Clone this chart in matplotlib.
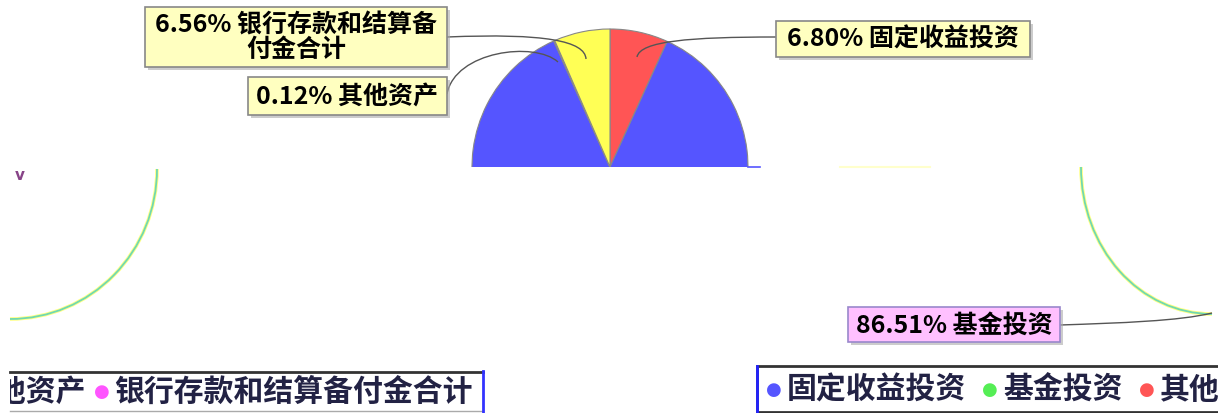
import matplotlib
matplotlib.use("Agg")
import matplotlib.pyplot as plt
from matplotlib.patches import Rectangle, Arc, PathPatch
from matplotlib.path import Path
from matplotlib.transforms import Bbox, TransformedBbox

plt.rcParams['font.family'] = ['Noto Sans CJK SC', 'DejaVu Sans']

# ---- data ----
pie_labels = ["固定收益投资", "基金投资", "其他资产", "银行存款和结算备付金合计"]
pie_values = [6.80, 86.51, 0.12, 6.56]
pie_colors = ["#FF5555", "#5555FF", "#55DD55", "#FFFF55"]
label_texts = ["6.80% 固定收益投资", "86.51% 基金投资", "0.12% 其他资产",
               "6.56% 银行存款和结算备\n付金合计"]
legend_left = ["其他资产", "银行存款和结算备付金合计"]
legend_left_colors = ["#FF5555", "#FF55FF"]
legend_right = ["固定收益投资", "基金投资", "其他资产"]
legend_right_colors = ["#5555FF", "#55EE55", "#FF5555"]

W, H = 1218, 414
fig = plt.figure(figsize=(W / 100, H / 100), dpi=100)
ax = fig.add_axes([0, 0, 1, 1])

wedges, _ = ax.pie(pie_values, colors=pie_colors, startangle=270, counterclock=True,
                   center=(610, 168), radius=138,
                   wedgeprops=dict(edgecolor="#888888", linewidth=0.8))
ax.set_xlim(0, W)
ax.set_ylim(H, 0)
ax.set_aspect('auto')
ax.axis('off')
clip = Rectangle((0, 0), W, 168, transform=ax.transData)
for w in wedges:
    w.set_clip_on(True)
    w.set_clip_path(clip)

# stray arcs
for cx, cy, wd, ht, t1, t2 in [(10, 170, 294, 300, 0, 90), (1212, 168, 262, 294, 90, 180)]:
    ax.add_patch(Arc((cx, cy), wd, ht, theta1=t1, theta2=t2, color="#FFFF66", lw=2.6, alpha=0.8))
    ax.add_patch(Arc((cx, cy), wd, ht, theta1=t1, theta2=t2, color="#70D8B0", lw=1.3))
ax.plot([840, 930], [168, 168], color="#FFFFCC", lw=1.5)
ax.plot([748, 760], [168, 168], color="#5555FF", lw=1.2)
ax.text(20, 176, "v", fontsize=11, color="#884488", fontweight="bold", ha="center", va="center",
        family="DejaVu Sans")


def leader(p0, p1, p2, p3, color="#555555"):
    path = Path([p0, p1, p2, p3], [Path.MOVETO, Path.CURVE4, Path.CURVE4, Path.CURVE4])
    ax.add_patch(PathPatch(path, fc="none", ec=color, lw=1.0))


leader((447, 38), (545, 34), (585, 42), (586, 60))
leader((447, 95), (455, 52), (535, 42), (558, 63))
leader((776, 38), (690, 38), (640, 42), (637, 58))
leader((1060, 326), (1120, 324), (1180, 322), (1212, 314))


def box(x0, y0, x1, y1, fc, ec="#888888"):
    ax.add_patch(Rectangle((x0 + 3, y0 + 3), x1 - x0, y1 - y0, fc="#AAAAAA", ec="none", alpha=0.6))
    ax.add_patch(Rectangle((x0, y0), x1 - x0, y1 - y0, fc=fc, ec=ec, lw=1.2))


lbl_fs = 18
box(776, 22, 1030, 58, "#FFFFC0")
ax.text(903, 40, label_texts[0], fontsize=lbl_fs, fontweight="bold", ha="center", va="center")
box(848, 308, 1060, 343, "#FFC0FF", ec="#9988CC")
ax.text(954, 326, label_texts[1], fontsize=lbl_fs, fontweight="bold", ha="center", va="center")
box(248, 78, 447, 116, "#FFFFC0")
ax.text(347, 97, label_texts[2], fontsize=lbl_fs, fontweight="bold", ha="center", va="center")
box(145, 8, 447, 68, "#FFFFC0")
ax.text(296, 38, label_texts[3], fontsize=lbl_fs, fontweight="bold", ha="center", va="center",
        linespacing=1.0)

# legends
leg_fs = 21.5
# left legend box
ax.plot([10, 483], [373, 373], color="#333333", lw=2)
ax.plot([10, 483], [412, 412], color="#AAAAAA", lw=1)
ax.plot([483, 483], [372, 414], color="#3333FF", lw=2)
cb = TransformedBbox(Bbox([[10, 0], [483, H]]), ax.transData)
t = ax.text(86, 392, legend_left[0], fontsize=leg_fs, fontweight="bold", ha="right", va="center",
            color="#222244")
t.set_clip_box(cb)
t.set_clip_on(True)
ax.text(102, 392, "●", fontsize=13, color=legend_left_colors[1], ha="center", va="center",
        family="DejaVu Sans")
ax.text(114, 392, legend_left[1], fontsize=leg_fs, fontweight="bold", ha="left", va="center",
        color="#222244")

# right legend box
ax.add_patch(Rectangle((757, 367), 470, 46, fc="white", ec="#333333", lw=2))
ax.plot([757, 757], [367, 413], color="#2222FF", lw=2)
xs = [774, 990, 1147]
for x, name, col in zip(xs, legend_right, legend_right_colors):
    ax.text(x, 390, "●", fontsize=13, color=col, ha="center", va="center", family="DejaVu Sans")
    ax.text(x + 13, 390, name, fontsize=leg_fs, fontweight="bold", ha="left", va="center",
            color="#222244")

fig.savefig("out.png", dpi=100)
